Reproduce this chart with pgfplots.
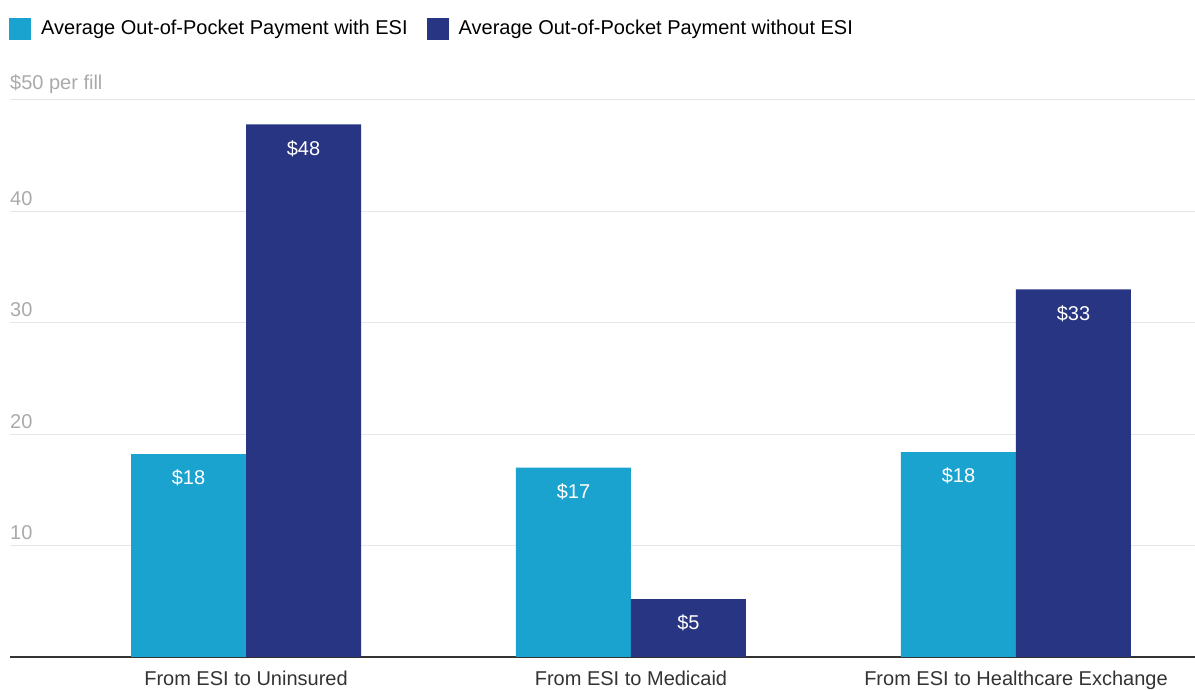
\documentclass[border=0pt]{standalone}
\usepackage{pgfplots}
\pgfplotsset{compat=1.18}
\usepackage{fontspec}
\setmainfont{Liberation Sans}
\usetikzlibrary{calc}
\definecolor{lightb}{HTML}{1BA3CF}
\definecolor{darkb}{HTML}{283583}
\definecolor{gridc}{HTML}{E6E6E6}
\definecolor{tickc}{HTML}{AAAAAA}
\definecolor{axc}{HTML}{333333}
\begin{document}
\fontsize{20}{24}\selectfont
\begin{tikzpicture}
\begin{axis}[
  scale only axis,
  width=1185pt, height=557pt,
  xmin=-0.613, xmax=2.465,
  ymin=0, ymax=50,
  axis x line*=bottom,
  axis y line*=left,
  y axis line style={draw=none},
  x axis line style={draw=axc, line width=1.2pt, -},
  xtick={0,1,2},
  xticklabels={From ESI to Uninsured, From ESI to Medicaid, From ESI to Healthcare Exchange},
  xtick style={draw=none},
  xticklabel style={font=\fontsize{20}{24}\selectfont, text=axc, yshift=-3pt},
  ytick={10,20,30,40,50},
  yticklabels={10,20,30,40,\$50 per fill},
  ymajorgrids,
  grid style={draw=gridc, line width=1pt},
  yticklabel style={anchor=south west, text=tickc, font=\fontsize{20}{24}\selectfont, inner xsep=0pt, yshift=-1pt},
  ytick style={draw=none},
  /pgf/number format/assume math mode=true,
  ybar,
  bar width=115pt,
  clip=false,
  point meta=explicit symbolic,
  nodes near coords,
  every node near coord/.append style={anchor=north, text=white, yshift=-9pt, font=\fontsize{20}{24}\selectfont},
  legend columns=2,
  legend style={at={(rel axis cs:0,1)}, anchor=south west, yshift=58pt, xshift=-4pt, draw=none, fill=none,
    font=\fontsize{20}{24}\selectfont,
    /tikz/every odd column/.append style={column sep=8pt},
    /tikz/every even column/.append style={column sep=17pt}},
  legend image code/.code={\fill[#1] (0pt,-11pt) rectangle (22pt,11pt);},
]
\addplot[fill=lightb, draw=none, bar shift=-57.5pt] coordinates {(0,18.2)[\$18] (1,17.0)[\$17] (2,18.4)[\$18]};
\addplot[fill=darkb, draw=none, bar shift=57.5pt] coordinates {(0,47.8)[\$48] (1,5.2)[\$5] (2,33.0)[\$33]};
\legend{Average Out-of-Pocket Payment with ESI, Average Out-of-Pocket Payment without ESI}
\coordinate (bl) at (rel axis cs:0,0);
\coordinate (tr) at (rel axis cs:1,1);
\end{axis}
\pgfresetboundingbox
\path ($(bl)+(-10pt,-33pt)$) rectangle ($(tr)+(0pt,100pt)$);
\end{tikzpicture}
\end{document}
